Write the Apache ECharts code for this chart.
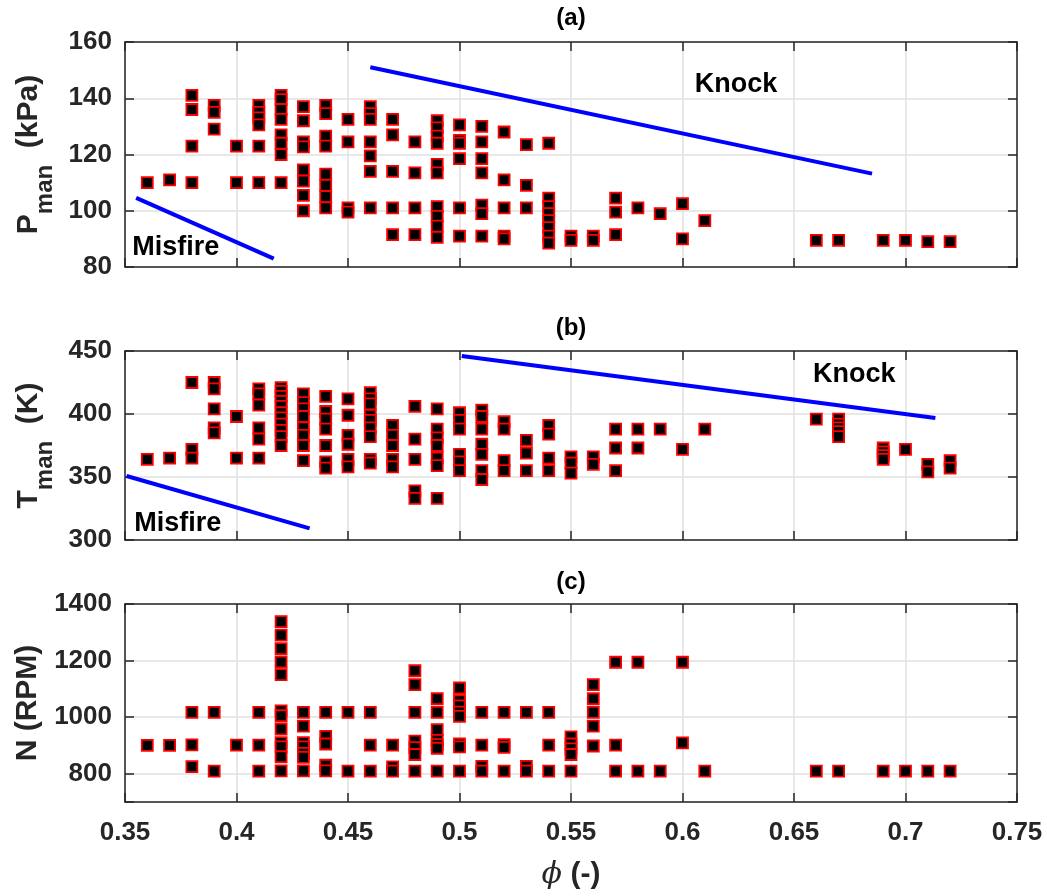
<!DOCTYPE html>
<html><head><meta charset="utf-8">
<script src="https://cdn.jsdelivr.net/npm/echarts@6/dist/echarts.min.js"></script>
<style>html,body{margin:0;padding:0;background:#fff}#c{width:1047px;height:896px}</style>
</head><body><div id="c"></div>
<script>
// equivalence ratio levels (x) shared by all three panels
const phi = [0.36,0.37,0.38,0.39,0.40,0.41,0.42,0.43,0.44,0.45,0.46,0.47,0.48,0.49,0.50,0.51,0.52,0.53,0.54,0.55,0.56,0.57,0.58,0.59,0.60,0.61,0.66,0.67,0.69,0.70,0.71,0.72];
// (a) manifold pressure, kPa (values at each phi)
const pMan = [
  [110],[111],[141,136,123,110],[137.5,135,129],[123,110],
  [137.5,135,133,130.5,123,110],[141,139.5,136,132.5,127,124,120,110],
  [137,132,124.5,122.7,114.5,110.5,105.5,100],[137.5,134.5,126.5,123,113,109,105,101],
  [132.5,124.5,101,99.5],[137,134.5,132.5,124.5,119.5,114,101],[132.5,127,114,101,91.5],
  [124.5,113.5,101,91.5],[132,129.5,126.5,124,116.5,113.5,101.5,98,94.5,90.5],
  [130.5,125,124,118.5,101,91],[130,124.5,118.5,113.5,102,99,91],[128,111,101,91,90],
  [123.5,109,101],[124,104.5,101.5,99,96.5,94,91,88.5],[91,89.5],[91,89.5],
  [104.5,99.5,91.5],[101],[99],[102.5,90],[96.5],
  [89.5],[89.5],[89.5],[89.5],[89],[89]
];
// (b) manifold temperature, K
const tMan = [
  [364],[365],[425,372,365],[425,420,404,389,385],[398,365],
  [420,416,407,389,380,365],[421,418,414,410,406,401,397,392,387,382,375],
  [416,409,404,398,389,383,375,363],[414,402,396,388,375,362,357],
  [412,399,383,376,364,358],[417,412,408,399,395,389,382,364,361],[391,383,375,364,358],
  [406,380,364,339,333],[404,388,381,375,365,359,333],
  [401,395,388,368,362,355],[403,398,388,376,368,355,348],[394,388,363,355],
  [379,369,355],[391,384,365,355],[366,361,353],[366,360],
  [388,373,355],[388,373],[388],[372],[388],
  [396],[396,392,389,386,382],[373,370,367,364],[372],[360,354],[363,357]
];
// (c) engine speed, RPM
const rpm = [
  [900],[900],[1017,902,825],[1017,809],[901],
  [1017,901,809],[1338,1290,1242,1195,1150,1022,1005,958,910,895,860,810],
  [1017,968,910,895,872,858,810],[1017,932,905,830,810],
  [1017,809],[1017,901,809],[901,824,809],
  [1164,1115,1017,915,892,868,809],[1065,1017,956,918,903,890,809],
  [1103,1058,1040,1018,1003,905,895,809],[1017,901,826,809],[1017,903,893,809],
  [1017,826,809],[1017,901,809],[930,905,888,868,809],[1115,1065,1017,968,898],
  [1194,901,809],[1194,809],[809],[1194,909],[809],
  [809],[809],[809],[809],[809],[809]
];
// operating boundaries
const knockA = [[0.46,151],[0.685,113.2]];
const misfireA = [[0.355,104.6],[0.4167,83]];
const knockB = [[0.501,446],[0.7134,396.8]];
const misfireB = [[0.3507,350.8],[0.4328,309.2]];
// axis ranges
const xRange = {min:0.35, max:0.75, interval:0.05};
const yRanges = [
  {min:80, max:160, interval:20},
  {min:300, max:450, interval:50},
  {min:700, max:1400, splitNumber:4, minInterval:200, maxInterval:200}
];
const panelTitles = ['(a)','(b)','(c)'];
const yNames = ['{m|P}{s|man}{m|  (kPa)}','{m|T}{s|man}{m|  (K)}','{n|N (RPM)}'];

const FONT = "'Liberation Sans', Arial, Helvetica, sans-serif";
const AX = '#262626';
const grids = [
  {left:125, right:30, top:42, height:225, outerBoundsMode:'none', containLabel:false},
  {left:125, right:30, top:351, height:189, outerBoundsMode:'none', containLabel:false},
  {left:125, right:30, top:604, height:198, outerBoundsMode:'none', containLabel:false}
];
const tickStyle = {show:true, inside:true, length:9, lineStyle:{color:AX, width:1.5}};
const xAxes = [], yAxes = [];
grids.forEach((g,i)=>{
  const last = i === 2;
  xAxes.push({
    type:'value', gridIndex:i, position:'bottom', min:xRange.min, max:xRange.max, interval:xRange.interval,
    axisLine:{show:true, onZero:false, lineStyle:{color:AX, width:1.5}},
    axisTick:tickStyle,
    splitLine:{show:true, lineStyle:{color:'#e1e1e1', width:1.5}},
    axisLabel:{show:last, margin:18, color:AX, fontSize:26, fontWeight:'bold', fontFamily:FONT,
      formatter:v=>String(parseFloat(v.toFixed(2)))},
    name: last ? '{i|\u03D5}{b| (-)}' : '',
    nameLocation:'middle', nameGap:58,
    nameTextStyle:{rich:{
      i:{fontSize:30, fontStyle:'italic', fontFamily:"'DejaVu Serif', serif", color:AX},
      b:{fontSize:30, fontWeight:'bold', fontFamily:FONT, color:AX}
    }}
  });
  xAxes.push({
    type:'value', gridIndex:i, position:'top', min:xRange.min, max:xRange.max, interval:xRange.interval,
    axisLine:{show:true, onZero:false, lineStyle:{color:AX, width:1.5}},
    axisTick:tickStyle, splitLine:{show:false}, axisLabel:{show:false}
  });
  const r = yRanges[i];
  yAxes.push(Object.assign({
    type:'value', gridIndex:i, position:'left',
    axisLine:{show:true, onZero:false, lineStyle:{color:AX, width:1.5}},
    axisTick:tickStyle,
    splitLine:{show:true, lineStyle:{color:'#e1e1e1', width:1.5}},
    axisLabel:{margin:13, color:AX, fontSize:26, fontWeight:'bold', fontFamily:FONT,
      formatter:v=> (v === 700 ? '' : String(v))},
    name:yNames[i], nameLocation:'middle', nameRotate:90, nameGap: i===2 ? 82 : 72,
    nameTextStyle:{rich:{
      m:{fontSize:30, fontWeight:'bold', fontFamily:FONT, color:AX, lineHeight:30},
      s:{fontSize:24, fontWeight:'bold', fontFamily:FONT, color:AX, lineHeight:24, padding:[34,0,0,0]},
      n:{fontSize:30, fontWeight:'bold', fontFamily:FONT, color:AX, lineHeight:30}
    }}
  }, r));
  yAxes.push(Object.assign({
    type:'value', gridIndex:i, position:'right',
    axisLine:{show:true, onZero:false, lineStyle:{color:AX, width:1.5}},
    axisTick:tickStyle, splitLine:{show:false}, axisLabel:{show:false}
  }, r));
});

function pts(vals){ return phi.flatMap((x,i)=>vals[i].map(y=>[x,y])); }
const marker = {type:'scatter', symbol:'rect', symbolSize:11,
  itemStyle:{color:'#000', borderColor:'#ff0000', borderWidth:1.8, opacity:1}, z:3};
const bound = (data, xi, yi)=>({type:'line', xAxisIndex:xi, yAxisIndex:yi, data, symbol:'none',
  lineStyle:{color:'#0000ff', width:4, opacity:1}, z:2, silent:true});
const note = (name, xy, xi, yi)=>({type:'scatter', xAxisIndex:xi, yAxisIndex:yi, symbolSize:2,
  itemStyle:{color:'rgba(0,0,0,0)', opacity:1}, silent:true, z:4,
  label:{show:true, position:'inside', formatter:'{b}', color:'#000', fontSize:27, fontWeight:'bold', fontFamily:FONT},
  data:[{name, value:xy}]});

const option = {
  animation:false,
  backgroundColor:'#fff',
  title: panelTitles.map((t,i)=>({text:t, left:571, top:[6,316,570][i], textAlign:'center', padding:0,
    textStyle:{fontSize:24, fontWeight:'bold', fontFamily:FONT, color:'#000'}})),
  grid:grids,
  xAxis:xAxes,
  yAxis:yAxes,
  series:[
    Object.assign({xAxisIndex:0, yAxisIndex:0, data:pts(pMan)}, marker),
    Object.assign({xAxisIndex:2, yAxisIndex:2, data:pts(tMan)}, marker),
    Object.assign({xAxisIndex:4, yAxisIndex:4, data:pts(rpm)}, marker),
    bound(knockA,0,0), bound(misfireA,0,0), bound(knockB,2,2), bound(misfireB,2,2),
    note('Knock',[0.624,145],0,0), note('Misfire',[0.3728,87],0,0),
    note('Knock',[0.677,431.6],2,2), note('Misfire',[0.3737,313.4],2,2)
  ]
};
echarts.init(document.getElementById('c'), null, {renderer:'canvas'}).setOption(option);
</script></body></html>
